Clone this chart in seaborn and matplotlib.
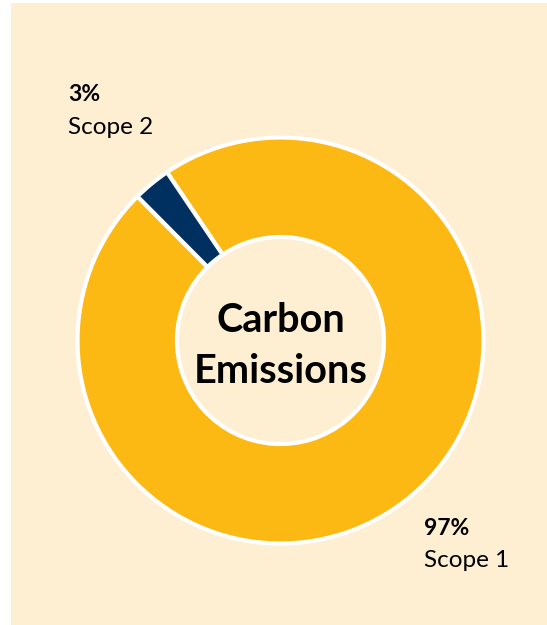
import matplotlib
matplotlib.use("Agg")
import matplotlib.pyplot as plt
import seaborn as sns
from matplotlib.patches import Rectangle

# donnees
scopes = ["Scope 1", "Scope 2"]
shares = [97, 3]
pct_labels = ["97%", "3%"]
centre_lines = ["Carbon", "Emissions"]

sns.set_theme(style="white")
plt.rcParams['font.family'] = ['Lato', 'DejaVu Sans']

colors = ["#FDB913", "#00305F"]
cream = "#FEEFD2"

W, H = 547, 625
fig = plt.figure(figsize=(W / 100, H / 100), dpi=100, facecolor="white")
fig.patches.append(Rectangle((11 / W, 0), 1 - 11 / W, 1 - 3 / H,
                             transform=fig.transFigure, facecolor=cream,
                             edgecolor="none", zorder=-1))

# donut centre (280, 340) px, rayon 203 px
cx, cy, r = 280.5, 340.5, 203
ax = fig.add_axes([(cx - r) / W, 1 - (cy + r) / H, 2 * r / W, 2 * r / H])
ax.set_facecolor("none")
ax.pie(shares, colors=colors, startangle=124, counterclock=False, radius=1,
       wedgeprops=dict(width=0.49, edgecolor="white", linewidth=3))
ax.set_xlim(-1, 1)
ax.set_ylim(-1, 1)
ax.set_aspect("equal")
ax.axis("off")

def px(x, y):
    return x / W, 1 - y / H

# titre central
fig.text(*px(cx, 332), centre_lines[0], ha="center", va="baseline", fontsize=28.5,
         fontweight="bold", color="black")
fig.text(*px(cx, 383), centre_lines[1], ha="center", va="baseline", fontsize=28.5,
         fontweight="bold", color="black")

# etiquettes
fig.text(*px(68, 101), pct_labels[1], fontsize=16.5, fontweight="bold", color="black")
fig.text(*px(68, 134), scopes[1], fontsize=17.5, color="black")
fig.text(*px(424, 535), pct_labels[0], fontsize=16.5, fontweight="bold", color="black")
fig.text(*px(424, 567), scopes[0], fontsize=17.5, color="black")

fig.savefig("out.png", dpi=100, facecolor="white")
